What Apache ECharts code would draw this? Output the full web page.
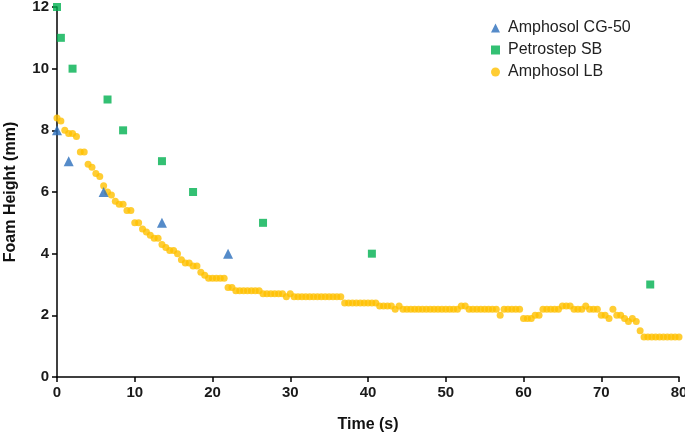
<!DOCTYPE html>
<html>
<head>
<meta charset="utf-8">
<script src="https://cdn.jsdelivr.net/npm/echarts@6/dist/echarts.min.js"></script>
<style>html,body{margin:0;padding:0;background:#fff}#c{width:685px;height:433px}</style>
</head>
<body>
<div id="c"></div>
<script>
const xTicks = [0, 10, 20, 30, 40, 50, 60, 70, 80];
const yTicks = [0, 2, 4, 6, 8, 10, 12];

const cg50Time = [0, 1.5, 6, 13.5, 22];
const cg50Height = [8, 7, 6, 5, 4];

const petroTime = [0, 0.5, 2, 6.5, 8.5, 13.5, 17.5, 26.5, 40.5, 76.3];
const petroHeight = [12, 11, 10, 9, 8, 7, 6, 5, 4, 3];

// Amphosol LB sampled every 0.5 s from 0 to 80 s
const lbHeight = [
  8.4, 8.3, 8.0, 7.9, 7.9, 7.8, 7.3, 7.3, 6.9, 6.8,
  6.6, 6.5, 6.2, 6.0, 5.9, 5.7, 5.6, 5.6, 5.4, 5.4,
  5.0, 5.0, 4.8, 4.7, 4.6, 4.5, 4.5, 4.3, 4.2, 4.1,
  4.1, 4.0, 3.8, 3.7, 3.7, 3.6, 3.6, 3.4, 3.3, 3.2,
  3.2, 3.2, 3.2, 3.2, 2.9, 2.9, 2.8, 2.8, 2.8, 2.8,
  2.8, 2.8, 2.8, 2.7, 2.7, 2.7, 2.7, 2.7, 2.7, 2.6,
  2.7, 2.6, 2.6, 2.6, 2.6, 2.6, 2.6, 2.6, 2.6, 2.6,
  2.6, 2.6, 2.6, 2.6, 2.4, 2.4, 2.4, 2.4, 2.4, 2.4,
  2.4, 2.4, 2.4, 2.3, 2.3, 2.3, 2.3, 2.2, 2.3, 2.2,
  2.2, 2.2, 2.2, 2.2, 2.2, 2.2, 2.2, 2.2, 2.2, 2.2,
  2.2, 2.2, 2.2, 2.2, 2.3, 2.3, 2.2, 2.2, 2.2, 2.2,
  2.2, 2.2, 2.2, 2.2, 2.0, 2.2, 2.2, 2.2, 2.2, 2.2,
  1.9, 1.9, 1.9, 2.0, 2.0, 2.2, 2.2, 2.2, 2.2, 2.2,
  2.3, 2.3, 2.3, 2.2, 2.2, 2.2, 2.3, 2.2, 2.2, 2.2,
  2.0, 2.0, 1.9, 2.2, 2.0, 2.0, 1.9, 1.8, 1.9, 1.8,
  1.5, 1.3, 1.3, 1.3, 1.3, 1.3, 1.3, 1.3, 1.3, 1.3,
  1.3
];
const lbTime = lbHeight.map((_, i) => i * 0.5);

const zip = (xs, ys) => xs.map((x, i) => [x, ys[i]]);

const chart = echarts.init(document.getElementById('c'), null, {renderer: 'canvas'});
const font = 'Liberation Sans, Arial, sans-serif';
chart.setOption({
  animation: false,
  backgroundColor: '#fff',
  grid: {left: 57, right: 6, top: 7, bottom: 56, containLabel: false, outerBoundsMode: 'none'},
  legend: {
    orient: 'vertical',
    left: 486,
    top: 15,
    padding: 5,
    itemWidth: 9,
    itemHeight: 9,
    itemGap: 6,
    textStyle: {fontFamily: font, fontSize: 16, color: '#222', padding: [0, 0, 0, 3]},
    data: [
      {name: 'Amphosol CG-50', icon: 'triangle'},
      {name: 'Petrostep SB', icon: 'rect'},
      {name: 'Amphosol LB', icon: 'circle'}
    ]
  },
  xAxis: {
    type: 'value', min: 0, max: 80, interval: 10,
    name: 'Time (s)', nameLocation: 'middle', nameGap: 40,
    nameTextStyle: {fontFamily: font, fontSize: 16, fontWeight: 'bold', color: '#111'},
    axisLine: {show: true, lineStyle: {color: '#000', width: 1.5}},
    axisTick: {show: true, length: 5, lineStyle: {color: '#000', width: 1.5}},
    axisLabel: {fontFamily: font, fontSize: 15, fontWeight: 'bold', color: '#1a1a1a', margin: 8,
      formatter: v => xTicks.includes(v) ? String(v) : ''},
    splitLine: {show: false}
  },
  yAxis: {
    type: 'value', min: 0, max: 12, interval: 2,
    name: 'Foam Height (mm)', nameLocation: 'middle', nameGap: 38,
    nameTextStyle: {fontFamily: font, fontSize: 16, fontWeight: 'bold', color: '#111'},
    axisLine: {show: true, lineStyle: {color: '#000', width: 1.5}},
    axisTick: {show: true, length: 5, lineStyle: {color: '#000', width: 1.5}},
    axisLabel: {fontFamily: font, fontSize: 15, fontWeight: 'bold', color: '#1a1a1a', margin: 8,
      formatter: v => yTicks.includes(v) ? String(v) : ''},
    splitLine: {show: false}
  },
  series: [
    {name: 'Amphosol CG-50', type: 'scatter', symbol: 'triangle', symbolSize: 10,
     itemStyle: {color: '#2A6EBB'}, z: 4, data: zip(cg50Time, cg50Height)},
    {name: 'Petrostep SB', type: 'scatter', symbol: 'rect', symbolSize: 8,
     itemStyle: {color: '#00B050'}, z: 3, data: zip(petroTime, petroHeight)},
    {name: 'Amphosol LB', type: 'scatter', symbol: 'circle', symbolSize: 7,
     itemStyle: {color: '#FFC000'}, z: 2, data: zip(lbTime, lbHeight)}
  ]
});
</script>
</body>
</html>
